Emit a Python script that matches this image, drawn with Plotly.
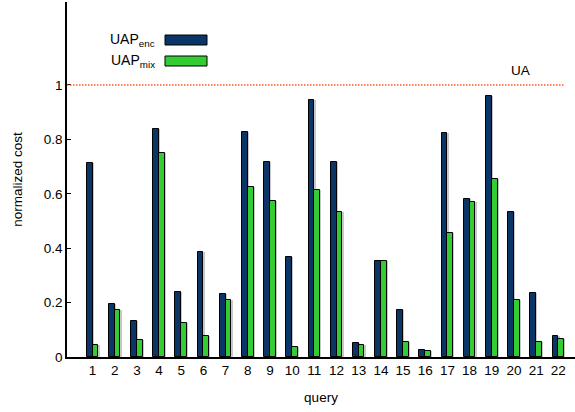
import plotly.graph_objects as go

queries = list(range(1, 23))
tick_labels = [str(q) for q in queries]
uap_enc = [0.714, 0.194, 0.131, 0.839, 0.240, 0.387, 0.230, 0.828, 0.717, 0.368, 0.945,
           0.717, 0.051, 0.354, 0.171, 0.026, 0.824, 0.581, 0.960, 0.533, 0.235, 0.078]
uap_mix = [0.043, 0.174, 0.061, 0.751, 0.124, 0.076, 0.211, 0.626, 0.574, 0.038, 0.615,
           0.533, 0.044, 0.354, 0.056, 0.023, 0.457, 0.571, 0.654, 0.208, 0.055, 0.066]
ua_value = 1.0

ENC = "#0b3566"
MIX = "#33cc33"
SHADOW = "#c8c8c8"
W = 0.26
SH = 0.055  # shadow shift in category units

fig = go.Figure()
# soft grey shadows behind the bars
for vals, off in [(uap_enc, -W), (uap_mix, 0)]:
    fig.add_trace(go.Bar(x=queries, y=vals, width=W, offset=off + SH,
                         marker=dict(color=SHADOW, line=dict(width=0)),
                         showlegend=False, hoverinfo="skip"))
fig.add_trace(go.Bar(x=queries, y=uap_enc, width=W, offset=-W,
                     marker=dict(color=ENC, line=dict(color="black", width=1)),
                     name="UAP enc", showlegend=False))
fig.add_trace(go.Bar(x=queries, y=uap_mix, width=W, offset=0,
                     marker=dict(color=MIX, line=dict(color="black", width=1)),
                     name="UAP mix", showlegend=False))

fig.add_shape(type="line", xref="paper", yref="y", x0=0, x1=0.98, y0=ua_value, y1=ua_value,
              line=dict(color="#ff5a1f", width=1.5, dash="1.5px,1.5px"))
fig.add_annotation(x=0.915, xref="paper", y=ua_value, yref="y", yshift=14, text="UA", showarrow=False,
                   font=dict(size=13.5, color="black"))

font = dict(family="Liberation Sans, Arial, sans-serif", size=13, color="black")


def px_to_paper_x(px):
    return (px - 67) / 508.0


def px_to_paper_y(py):
    return (357 - py) / 355.0


for label, color, yc in [("UAP<sub>enc</sub>", ENC, 40), ("UAP<sub>mix</sub>", MIX, 61)]:
    fig.add_annotation(x=px_to_paper_x(157), y=px_to_paper_y(yc), xref="paper", yref="paper",
                       xanchor="right", yanchor="middle", text=label, showarrow=False,
                       font=dict(family=font["family"], size=14, color="black"))
    fig.add_shape(type="rect", xref="paper", yref="paper",
                  x0=px_to_paper_x(165), x1=px_to_paper_x(207),
                  y0=px_to_paper_y(yc - 5), y1=px_to_paper_y(yc + 5),
                  fillcolor=color, line=dict(color="black", width=1))

fig.update_layout(
    width=575, height=412,
    margin=dict(l=67, r=0, t=2, b=55, autoexpand=False),
    plot_bgcolor="white", paper_bgcolor="white",
    font=font,
    bargap=0,
    barmode="overlay",
)
fig.update_xaxes(range=[-0.15, 22.75], tickmode="array", tickvals=queries, ticktext=tick_labels,
                 showline=True, linecolor="black", linewidth=1.5, ticks="", showgrid=False, zeroline=False,
                 automargin=False, tickfont=dict(size=13.5),
                 title=dict(text="query", font=dict(size=13.5), standoff=16))
fig.update_yaxes(range=[0, 1.305], tickmode="array", tickvals=[0, 0.2, 0.4, 0.6, 0.8, 1],
                 ticktext=["0", "0.2", "0.4", "0.6", "0.8", "1"],
                 showline=True, linecolor="black", linewidth=1.5, ticks="inside", ticklen=4, tickcolor="black",
                 showgrid=False, zeroline=False, automargin=False, tickfont=dict(size=13.5),
                 title=dict(text="normalized cost", font=dict(size=13.5), standoff=18))

fig.write_html("out.html", config={"displayModeBar": False},
               post_script="document.body.style.margin='0px';")
